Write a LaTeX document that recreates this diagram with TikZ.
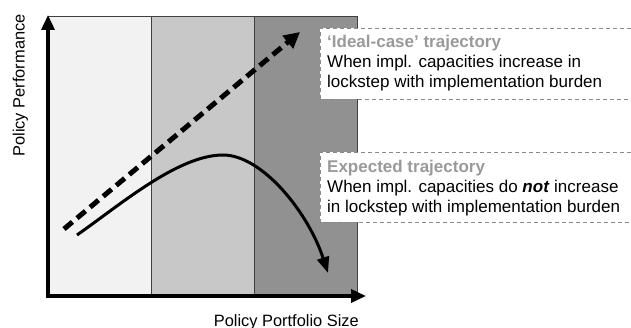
\documentclass[tikz,border=0pt]{standalone}
\usepackage{fontspec}
\setmainfont{Liberation Sans}
\usetikzlibrary{arrows.meta}
\definecolor{bandA}{HTML}{F2F2F2}
\definecolor{bandB}{HTML}{C8C8C8}
\definecolor{bandC}{HTML}{919191}
\definecolor{edgegray}{HTML}{404040}
\definecolor{titlegray}{HTML}{9A9A9A}
\definecolor{boxgray}{HTML}{8A8A8A}
\tikzset{
  band/.style={draw=edgegray, line width=0.9pt},
  axis/.style={line width=3.5pt, {Triangle[length=15pt,width=13pt]}-{Triangle[length=15pt,width=13pt]}},
  ideal/.style={line width=5pt, dash pattern=on 11pt off 6pt, -{Triangle[length=16pt,width=16pt]}},
  expected/.style={line width=3pt, -{Triangle[length=16pt,width=12pt]}},
  notebox/.style={fill=white, draw=none},
  noteedge/.style={draw=boxgray, line width=0.8pt, dash pattern=on 4pt off 3pt},
  txt/.style={inner sep=0pt, anchor=base west, font=\fontsize{17}{19}\selectfont},
  ttl/.style={txt, text=titlegray, font=\fontsize{17}{19}\selectfont\bfseries},
  axlabel/.style={inner sep=0pt, font=\fontsize{16.4}{19}\selectfont}
}
\begin{document}
\begin{tikzpicture}[x=1pt,y=-1pt]
\useasboundingbox (0,0) rectangle (631,328);
% bands
\fill[bandA] (48,16) rectangle (151,296);
\fill[bandB] (151,16) rectangle (254,296);
\fill[bandC] (254,16) rectangle (357,296);
\draw[band] (48,16) -- (357,16) -- (357,296);
\draw[band] (151,16) -- (151,296);
\draw[band] (254,16) -- (254,296);
% note boxes
\fill[notebox] (320,28) rectangle (631,99);
\draw[noteedge] (631,28) -- (320,28) -- (320,99) -- (631,99);
\fill[notebox] (320,152) rectangle (631,222);
\draw[noteedge] (631,152) -- (320,152) -- (320,222) -- (631,222);
% axes
\coordinate (ytop) at (48,15);
\coordinate (origin) at (48,296);
\coordinate (xend) at (366,296);
\draw[axis] (ytop) -- (origin) -- (xend);
% trajectories
\coordinate (i0) at (64,229);
\coordinate (i1) at (300,32);
\draw[ideal] (i0) -- (i1);
\coordinate (e0) at (77,235);
\coordinate (e1) at (223,155);
\coordinate (e2) at (328,273);
\draw[expected] (e0) .. controls (120,205) and (178,155) .. (e1)
  .. controls (262,155) and (308,212) .. (e2);
% texts
\node[ttl] (t1) at (327,48) {‘Ideal-case’ trajectory};
\node[txt] (t2) at (327,67.5) {When impl. capacities increase in};
\node[txt] (t3) at (327,87.5) {lockstep with implementation burden};
\node[ttl] (u1) at (327,173) {Expected trajectory};
\node[txt] (u2) at (327,193) {When impl. capacities do \textbf{\textit{not}} increase};
\node[txt] (u3) at (327,213) {in lockstep with implementation burden};
\node[axlabel, rotate=90, anchor=base] (ylab) at (24.5,85.5) {Policy Performance};
\node[axlabel, anchor=base east] (xlab) at (359,326) {Policy Portfolio Size};
\end{tikzpicture}
\end{document}
